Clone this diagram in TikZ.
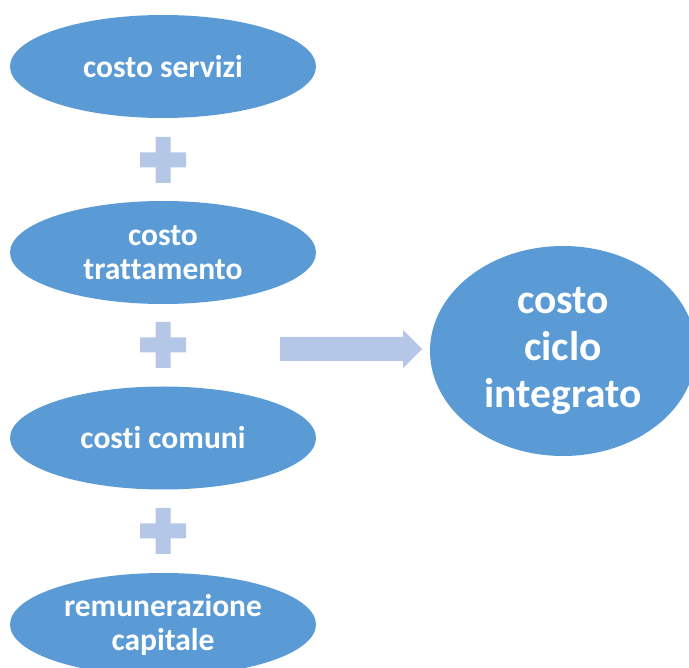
\documentclass[tikz,border=0pt]{standalone}
\usepackage{fontspec}
\setmainfont{Carlito}[Ligatures=NoCommon]
\usetikzlibrary{shapes.geometric}
\definecolor{ellblue}{HTML}{5B9BD5}
\definecolor{lightblue}{HTML}{B4C7E7}
\tikzset{
  costell/.style={ellipse, fill=ellblue, draw=none, inner sep=0pt,
    minimum width=306pt, minimum height=103pt, text=white, align=center,
    font=\fontsize{31.5}{34}\selectfont\bfseries},
  bigell/.style={ellipse, fill=ellblue, draw=none, inner sep=0pt,
    minimum width=266pt, minimum height=210pt, text=white, align=center,
    font=\fontsize{41.5}{47}\selectfont\bfseries},
  plusshape/.style={fill=lightblue, draw=none},
  arrowshape/.style={fill=lightblue, draw=none}
}
\begin{document}
\begin{tikzpicture}[x=1pt,y=-1pt]
\useasboundingbox (0,0) rectangle (689,668);
\clip (0,0) rectangle (689,668);
\node[costell] (servizi) at (163,66.5) {costo servizi};
\node[costell] (trattamento) at (163,252.5) {costo\\trattamento};
\node[costell] (comuni) at (163,438) {costi comuni};
\node[costell] (capitale) at (163,624.5) {remunerazione\\capitale};
\node[bigell] (ciclo) at (563,351) {costo\\ciclo\\integrato};
% plus signs
\foreach \cy in {160,345,531} {
  \fill[plusshape] (155.5,\cy-23) -- (170.5,\cy-23) -- (170.5,\cy-7.5) -- (186,\cy-7.5)
    -- (186,\cy+7.5) -- (170.5,\cy+7.5) -- (170.5,\cy+23) -- (155.5,\cy+23)
    -- (155.5,\cy+7.5) -- (140,\cy+7.5) -- (140,\cy-7.5) -- (155.5,\cy-7.5) -- cycle;
}
% arrow
\fill[arrowshape] (280,337) -- (403,337) -- (403,330) -- (422,349) -- (403,368)
  -- (403,361) -- (280,361) -- cycle;
\end{tikzpicture}
\end{document}
